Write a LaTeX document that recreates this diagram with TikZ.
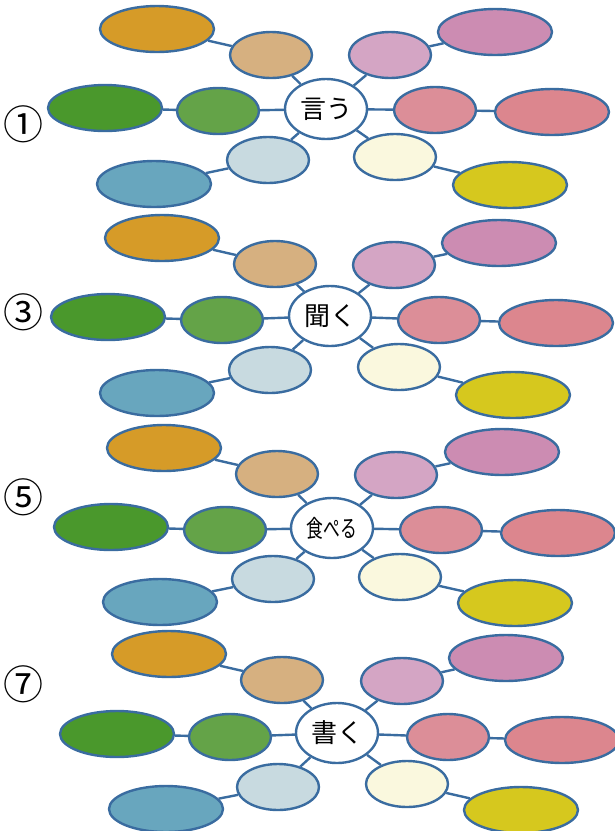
\documentclass[tikz,border=0pt]{standalone}
\usepackage{fontspec}
\usepackage{tikz}
\usetikzlibrary{shapes.geometric}
\newfontfamily\jpfont{Noto Sans CJK JP}

\definecolor{lineB}{RGB}{58,108,160}
\definecolor{orangeB}{RGB}{214,155,40}
\definecolor{tanB}{RGB}{214,176,128}
\definecolor{greenD}{RGB}{74,152,44}
\definecolor{greenM}{RGB}{100,163,72}
\definecolor{iceB}{RGB}{200,218,224}
\definecolor{blueB}{RGB}{104,166,190}
\definecolor{lilacB}{RGB}{212,165,196}
\definecolor{mauveB}{RGB}{204,140,178}
\definecolor{roseM}{RGB}{220,142,152}
\definecolor{roseB}{RGB}{220,134,142}
\definecolor{creamB}{RGB}{250,248,222}
\definecolor{yellowB}{RGB}{214,200,30}

\tikzset{
  bubble/.style={ellipse,draw=lineB,line width=2.4pt,inner sep=0pt},
  outer/.style={bubble,minimum width=114pt,minimum height=46pt},
  inner/.style={bubble,minimum width=82pt,minimum height=46pt},
  hub/.style={bubble,fill=white,minimum width=82pt,minimum height=60pt,
    font=\jpfont\fontsize{26}{26}\selectfont},
  link/.style={lineB,line width=2.4pt},
  num/.style={font=\jpfont\fontsize{40}{40}\selectfont}
}

\begin{document}
\begin{tikzpicture}[x=1pt,y=-1pt]
\useasboundingbox (0,0) rectangle (615,831);

% group 1:
\node[num] (n1) at (23,124) {①};
\node[hub] (h1) at (326,109) {言う};
\node[inner,fill=tanB] (h1tan) at (271,55) {};
\node[outer,fill=orangeB] (h1org) at (157,29) {};
\node[inner,fill=greenM] (h1gm) at (218,111) {};
\node[outer,fill=greenD] (h1gd) at (105,108) {};
\node[inner,fill=iceB] (h1ice) at (268,160) {};
\node[outer,fill=blueB] (h1blu) at (154,184) {};
\node[inner,fill=lilacB] (h1lil) at (390,55) {};
\node[outer,fill=mauveB] (h1mau) at (495,32) {};
\node[inner,fill=roseM] (h1rm) at (435,110) {};
\node[outer,fill=roseB] (h1rb) at (552,112) {};
\node[inner,fill=creamB] (h1cre) at (395,157) {};
\node[outer,fill=yellowB] (h1yel) at (510,185) {};
\draw[link] (h1) -- (h1tan) (h1tan) -- (h1org);
\draw[link] (h1) -- (h1gm) (h1gm) -- (h1gd);
\draw[link] (h1) -- (h1ice) (h1ice) -- (h1blu);
\draw[link] (h1) -- (h1lil) (h1lil) -- (h1mau);
\draw[link] (h1) -- (h1rm) (h1rm) -- (h1rb);
\draw[link] (h1) -- (h1cre) (h1cre) -- (h1yel);

% group 3:
\node[num] (n3) at (23,312) {③};
\node[hub] (h3) at (330,316) {聞く};
\node[inner,fill=tanB] (h3tan) at (275,264) {};
\node[outer,fill=orangeB] (h3org) at (162,238) {};
\node[inner,fill=greenM] (h3gm) at (222,320) {};
\node[outer,fill=greenD] (h3gd) at (108,317) {};
\node[inner,fill=iceB] (h3ice) at (270,370) {};
\node[outer,fill=blueB] (h3blu) at (157,393) {};
\node[inner,fill=lilacB] (h3lil) at (394,265) {};
\node[outer,fill=mauveB] (h3mau) at (499,243) {};
\node[inner,fill=roseM] (h3rm) at (439,320) {};
\node[outer,fill=roseB] (h3rb) at (556,323) {};
\node[inner,fill=creamB] (h3cre) at (399,367) {};
\node[outer,fill=yellowB] (h3yel) at (513,395) {};
\draw[link] (h3) -- (h3tan) (h3tan) -- (h3org);
\draw[link] (h3) -- (h3gm) (h3gm) -- (h3gd);
\draw[link] (h3) -- (h3ice) (h3ice) -- (h3blu);
\draw[link] (h3) -- (h3lil) (h3lil) -- (h3mau);
\draw[link] (h3) -- (h3rm) (h3rm) -- (h3rb);
\draw[link] (h3) -- (h3cre) (h3cre) -- (h3yel);

% group 5:
\node[num] (n5) at (23,497) {⑤};
\node[hub] (h5) at (332,528) {\fontsize{24}{24}\selectfont\scalebox{0.7}[1]{食ぺる}};
\node[inner,fill=tanB] (h5tan) at (277,474) {};
\node[outer,fill=orangeB] (h5org) at (164,448) {};
\node[inner,fill=greenM] (h5gm) at (225,530) {};
\node[outer,fill=greenD] (h5gd) at (111,527) {};
\node[inner,fill=iceB] (h5ice) at (273,579) {};
\node[outer,fill=blueB] (h5blu) at (160,602) {};
\node[inner,fill=lilacB] (h5lil) at (396,475) {};
\node[outer,fill=mauveB] (h5mau) at (502,452) {};
\node[inner,fill=roseM] (h5rm) at (441,530) {};
\node[outer,fill=roseB] (h5rb) at (558,533) {};
\node[inner,fill=creamB] (h5cre) at (400,577) {};
\node[outer,fill=yellowB] (h5yel) at (515,603) {};
\draw[link] (h5) -- (h5tan) (h5tan) -- (h5org);
\draw[link] (h5) -- (h5gm) (h5gm) -- (h5gd);
\draw[link] (h5) -- (h5ice) (h5ice) -- (h5blu);
\draw[link] (h5) -- (h5lil) (h5lil) -- (h5mau);
\draw[link] (h5) -- (h5rm) (h5rm) -- (h5rb);
\draw[link] (h5) -- (h5cre) (h5cre) -- (h5yel);

% group 7:
\node[num] (n7) at (23,684) {⑦};
\node[hub] (h7) at (337,733) {書く};
\node[inner,fill=tanB] (h7tan) at (282,680) {};
\node[outer,fill=orangeB] (h7org) at (169,654) {};
\node[inner,fill=greenM] (h7gm) at (230,737) {};
\node[outer,fill=greenD] (h7gd) at (117,734) {};
\node[inner,fill=iceB] (h7ice) at (278,787) {};
\node[outer,fill=blueB] (h7blu) at (166,809) {};
\node[inner,fill=lilacB] (h7lil) at (402,681) {};
\node[outer,fill=mauveB] (h7mau) at (506,658) {};
\node[inner,fill=roseM] (h7rm) at (448,737) {};
\node[outer,fill=roseB] (h7rb) at (562,740) {};
\node[inner,fill=creamB] (h7cre) at (407,784) {};
\node[outer,fill=yellowB] (h7yel) at (521,810) {};
\draw[link] (h7) -- (h7tan) (h7tan) -- (h7org);
\draw[link] (h7) -- (h7gm) (h7gm) -- (h7gd);
\draw[link] (h7) -- (h7ice) (h7ice) -- (h7blu);
\draw[link] (h7) -- (h7lil) (h7lil) -- (h7mau);
\draw[link] (h7) -- (h7rm) (h7rm) -- (h7rb);
\draw[link] (h7) -- (h7cre) (h7cre) -- (h7yel);

\end{tikzpicture}
\end{document}
